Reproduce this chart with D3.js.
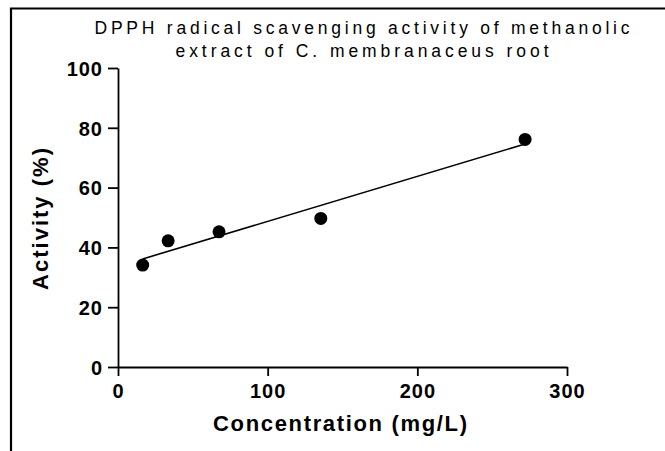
<!DOCTYPE html>
<html>
<head>
<meta charset="utf-8">
<script src="https://cdn.jsdelivr.net/npm/d3@7"></script>
<style>
  html, body { margin: 0; padding: 0; background: #fff; }
  svg { display: block; }
  text { font-family: "Liberation Sans", Arial, sans-serif; fill: #000; }
</style>
</head>
<body>
<svg id="chart" width="665" height="451"></svg>
<script>
// ---- data ----
const concentration = [16.5, 33.5, 67.5, 135.5, 272];
const activity = [34.1, 42.2, 45.2, 49.7, 76.1];
const xTicks = [0, 100, 200, 300];
const yTicks = [0, 20, 40, 60, 80, 100];
const titleLines = ["DPPH radical scavenging activity of methanolic", "extract of C. membranaceus root"];
const xLabel = "Concentration (mg/L)";
const yLabel = "Activity (%)";

const svg = d3.select("#chart");

// frame (top and left borders)
svg.append("path")
  .attr("d", "M11,451 L11,8.5 L665,8.5")
  .attr("fill", "none").attr("stroke", "#000").attr("stroke-width", 2.2);

const x = d3.scaleLinear().domain([0, 300]).range([118, 567]);
const y = d3.scaleLinear().domain([0, 100]).range([367, 68]);

// x axis
const gx = svg.append("g").attr("transform", `translate(0,${y(0)})`)
  .call(d3.axisBottom(x).tickValues(xTicks).tickSize(9).tickSizeOuter(0).tickPadding(8));
// y axis
const gy = svg.append("g").attr("transform", `translate(${x(0)},0)`)
  .call(d3.axisLeft(y).tickValues(yTicks).tickSize(10).tickSizeOuter(0).tickPadding(5));

[gx, gy].forEach(g => {
  g.select(".domain").attr("stroke", "#000").attr("stroke-width", 1.8);
  g.selectAll(".tick line").attr("stroke", "#000").attr("stroke-width", 1.8);
  g.selectAll(".tick text")
    .attr("fill", "#000")
    .style("font-family", "'Liberation Sans', Arial, sans-serif")
    .style("font-weight", "bold")
    .style("font-size", "20px")
    .style("letter-spacing", "1px");
});
gy.selectAll(".tick text").attr("dy", "0.36em");

// regression line
const n = concentration.length;
const mx = d3.mean(concentration), my = d3.mean(activity);
let sxy = 0, sxx = 0;
for (let i = 0; i < n; i++) {
  sxy += (concentration[i] - mx) * (activity[i] - my);
  sxx += (concentration[i] - mx) ** 2;
}
const slope = sxy / sxx, intercept = my - slope * mx;
const [xmin, xmax] = d3.extent(concentration);
svg.append("line")
  .attr("x1", x(xmin)).attr("y1", y(intercept + slope * xmin))
  .attr("x2", x(xmax)).attr("y2", y(intercept + slope * xmax))
  .attr("stroke", "#000").attr("stroke-width", 1.6);

// points
svg.selectAll("circle.pt").data(concentration).enter().append("circle")
  .attr("class", "pt")
  .attr("cx", (d) => x(d))
  .attr("cy", (d, i) => y(activity[i]))
  .attr("r", 6.5)
  .attr("fill", "#000");

// title
titleLines.forEach((t, i) => {
  svg.append("text")
    .attr("x", 362).attr("y", 34 + i * 23)
    .attr("text-anchor", "middle")
    .attr("textLength", i === 0 ? 535 : 373)
    .attr("lengthAdjust", "spacing")
    .style("font-size", "17.5px")
    .text(t);
});

// axis titles
svg.append("text")
  .attr("x", 340).attr("y", 431)
  .attr("text-anchor", "middle")
  .attr("textLength", 254).attr("lengthAdjust", "spacing")
  .style("font-size", "22px").style("font-weight", "bold")
  .text(xLabel);

svg.append("text")
  .attr("transform", `translate(48,219) rotate(-90)`)
  .attr("text-anchor", "middle")
  .attr("textLength", 142).attr("lengthAdjust", "spacing")
  .style("font-size", "22px").style("font-weight", "bold")
  .text(yLabel);
</script>
</body>
</html>
